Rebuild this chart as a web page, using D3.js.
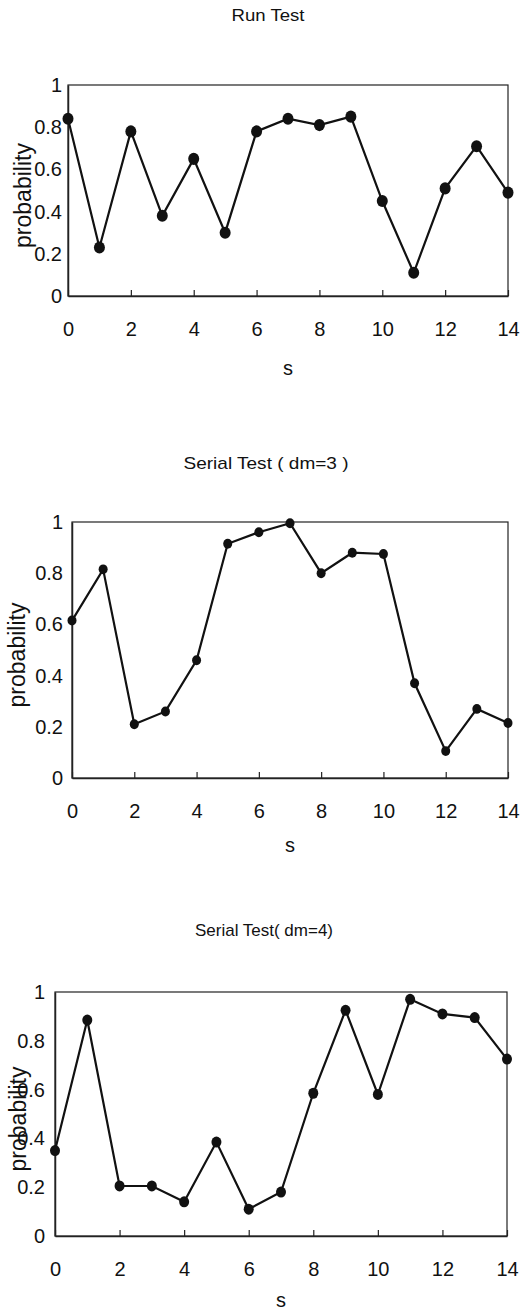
<!DOCTYPE html>
<html>
<head>
<meta charset="utf-8">
<script src="https://cdn.jsdelivr.net/npm/d3@7"></script>
<style>
  html, body { margin: 0; padding: 0; background: #fff; }
  svg { display: block; }
  text { font-family: "Liberation Sans", Arial, sans-serif; fill: #111; }
</style>
</head>
<body>
<svg id="chart" width="529" height="1314"></svg>
<script>
// ---- data ----
const sValues = [0,1,2,3,4,5,6,7,8,9,10,11,12,13,14];
const runTest = [0.84,0.23,0.78,0.38,0.65,0.30,0.78,0.84,0.81,0.85,0.45,0.11,0.51,0.71,0.49];
const serialDm3 = [0.615,0.815,0.21,0.26,0.46,0.915,0.96,0.995,0.80,0.88,0.875,0.37,0.105,0.27,0.215];
const serialDm4 = [0.35,0.885,0.205,0.205,0.14,0.385,0.11,0.18,0.585,0.925,0.58,0.97,0.91,0.895,0.725];
const xTickValues = [0,2,4,6,8,10,12,14];
const yTickValues = [0,0.2,0.4,0.6,0.8,1];
const yTickLabels = ["0","0.2","0.4","0.6","0.8","1"];
const titles = ["Run Test","Serial Test ( dm=3 )","Serial Test( dm=4)"];
const xLabel = "s";
const yLabel = "probability";

// ---- layout per panel ----
const panels = [
  {data: runTest,   title: titles[0], left: 68, right: 508, top: 85,  bottom: 296, titleY: 17,  titleX: 268, titleLen: 73,  r: 5.5, ylabX: 25, ylabPad: 6,  sY: 370},
  {data: serialDm3, title: titles[1], left: 72, right: 508, top: 522, bottom: 778, titleY: 465, titleX: 266, titleLen: 165, r: 4.5, ylabX: 19, ylabPad: 9,  sY: 847},
  {data: serialDm4, title: titles[2], left: 55, right: 507, top: 992, bottom: 1236, titleY: 932, titleX: 264, titleLen: 138, r: 5, ylabX: 20, ylabPad: 10, sY: 1302}
];

const svg = d3.select("#chart");

panels.forEach(p => {
  const g = svg.append("g");
  const x = d3.scaleLinear().domain([0,14]).range([p.left, p.right]);
  const y = d3.scaleLinear().domain([0,1]).range([p.bottom, p.top]);

  // title
  g.append("text")
    .attr("x", p.titleX).attr("y", p.titleY)
    .attr("text-anchor", "middle").attr("dominant-baseline", "middle")
    .attr("font-size", 17)
    .attr("textLength", p.titleLen).attr("lengthAdjust", "spacingAndGlyphs")
    .text(p.title);

  // frame
  g.append("rect")
    .attr("x", p.left).attr("y", p.top)
    .attr("width", p.right - p.left).attr("height", p.bottom - p.top)
    .attr("fill", "none").attr("stroke", "#222").attr("stroke-width", 1.2);

  // x axis
  const xAxis = d3.axisBottom(x).tickValues(xTickValues).tickFormat(d3.format("d"))
    .tickSizeInner(-6).tickSizeOuter(0).tickPadding(26);
  const xg = g.append("g").attr("transform", `translate(0,${p.bottom})`).call(xAxis);
  xg.select(".domain").attr("stroke", "#222").attr("stroke-width", 1.5);
  xg.selectAll(".tick line").attr("stroke", "#222").attr("stroke-width", 1.2);
  xg.selectAll(".tick text").attr("font-size", 20).attr("fill", "#111")
    .attr("font-family", "Liberation Sans, Arial, sans-serif");

  // y axis
  const yAxis = d3.axisLeft(y).tickValues(yTickValues)
    .tickFormat((d,i) => yTickLabels[i]).tickSize(0).tickPadding(p.ylabPad);
  const yg = g.append("g").attr("transform", `translate(${p.left},0)`).call(yAxis);
  yg.select(".domain").attr("stroke", "#222").attr("stroke-width", 1.5);
  yg.selectAll(".tick text").attr("font-size", 20).attr("fill", "#111")
    .attr("font-family", "Liberation Sans, Arial, sans-serif");

  // axis titles
  g.append("text")
    .attr("x", (p.left + p.right) / 2).attr("y", p.sY)
    .attr("text-anchor", "middle").attr("dominant-baseline", "middle")
    .attr("font-size", 20).text(xLabel);
  g.append("text")
    .attr("transform", `translate(${p.ylabX},${(p.top + p.bottom) / 2 + 5}) rotate(-90)`)
    .attr("text-anchor", "middle").attr("dominant-baseline", "middle")
    .attr("font-size", 23).text(yLabel);

  // line
  const line = d3.line().x((d,i) => x(sValues[i])).y(d => y(d));
  g.append("path").datum(p.data)
    .attr("d", line).attr("fill", "none")
    .attr("stroke", "#111").attr("stroke-width", 2.2);

  // markers
  g.selectAll("ellipse.pt").data(p.data).enter().append("ellipse")
    .attr("class", "pt")
    .attr("cx", (d,i) => x(sValues[i])).attr("cy", d => y(d))
    .attr("rx", p.r).attr("ry", p.r * 1.1)
    .attr("fill", "#111");
});
</script>
</body>
</html>
